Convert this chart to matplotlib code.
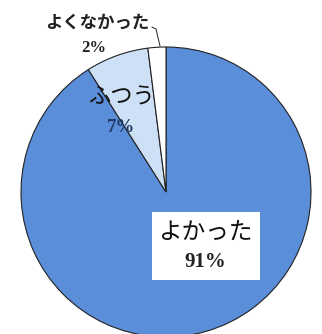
import numpy as np
from matplotlib import pyplot

labels = ['よかった', 'ふつう', 'よくなかった']
shares = [91, 7, 2]
colors = ['#5a8ed8', '#cde0f6', '#ffffff']

jp = ['Noto Sans CJK JP', 'DejaVu Sans']
num = ['Liberation Serif', 'DejaVu Serif']

fig = pyplot.figure(figsize=(3.22, 3.34), dpi=100)
ax = fig.add_axes([0, 0, 1, 1])

# pie in pixel units so it can run off the bottom like the original
cx, cy, r = 166, 142, 145
wedges, _ = ax.pie(shares, colors=colors, startangle=90, counterclock=False,
                   radius=r, center=(cx, cy),
                   wedgeprops=dict(edgecolor='#222222', linewidth=0.8))
ax.set_xlim(0, 322)
ax.set_ylim(0, 334)
ax.set_aspect('equal')
ax.set_axis_off()

# よかった: white box with name + share
ax.add_patch(pyplot.Rectangle((152, 54), 108, 68, facecolor='white',
                              edgecolor='none', zorder=3))
ax.text(205, 101, labels[0], ha='center', va='center', fontsize=17,
        family=jp, color='#111111', zorder=4)
ax.text(205, 72, f'{shares[0]}%', ha='center', va='center', fontsize=15,
        family=num, weight='bold', color='#222222', zorder=4)
# ふつう
ax.text(121, 237, labels[1], ha='center', va='center', fontsize=16,
        family=jp, color='#111111')
ax.text(121, 207, f'{shares[1]}%', ha='center', va='center', fontsize=13.5,
        family=num, weight='bold', color='#1f3a66')
# よくなかった
ax.text(97, 311, labels[2], ha='center', va='center', fontsize=12.5,
        family=jp, weight='bold', color='#222222')
ax.text(94, 286, f'{shares[2]}%', ha='center', va='center', fontsize=12,
        family=num, weight='bold', color='#222222')
ax.plot([152, 156, 160], [307, 305, 288], color='#222222', linewidth=0.7)

fig.savefig('out.png', dpi=100)
